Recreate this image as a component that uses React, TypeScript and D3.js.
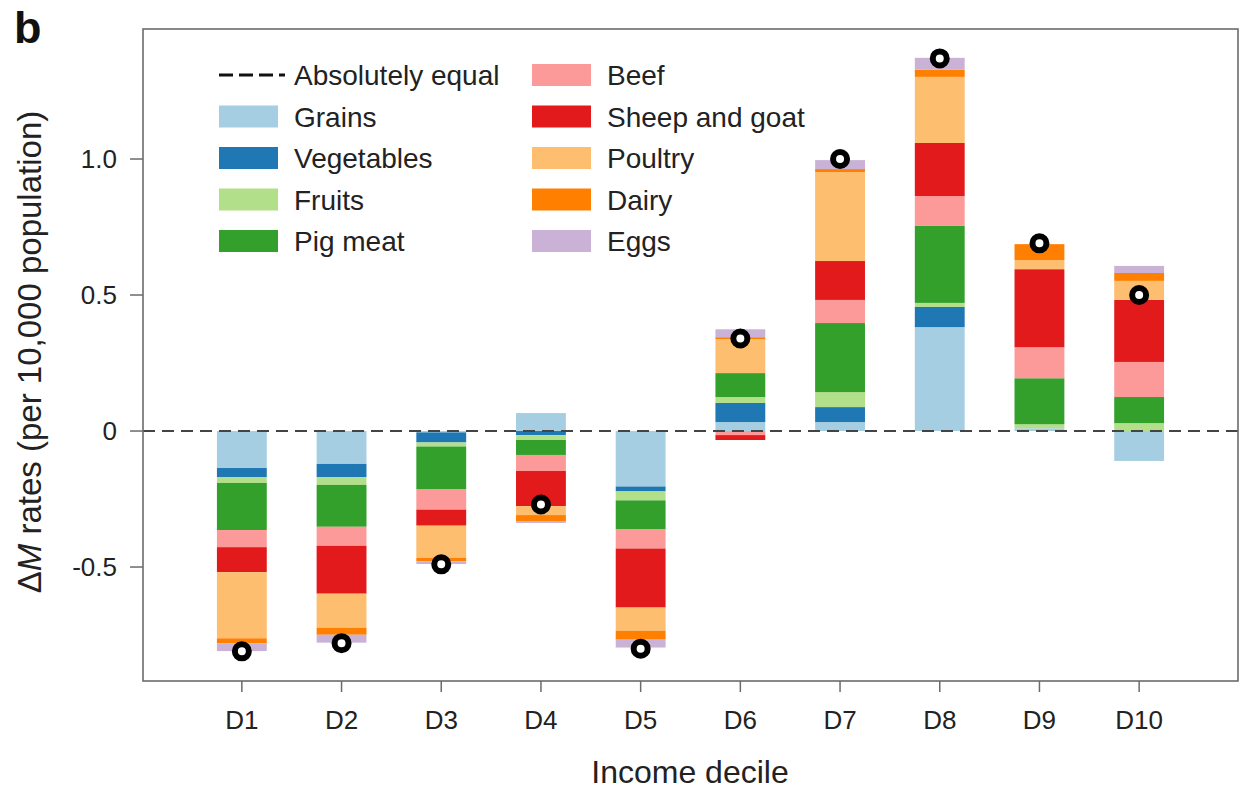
import React from "react";
import * as d3 from "d3";

const categories = ["D1", "D2", "D3", "D4", "D5", "D6", "D7", "D8", "D9", "D10"];
const seriesNames = ["Grains", "Vegetables", "Fruits", "Pig meat", "Beef", "Sheep and goat", "Poultry", "Dairy", "Eggs"];
const seriesColors = ["#a6cee3", "#1f78b4", "#b2df8a", "#33a02c", "#fb9a99", "#e31a1c", "#fdbf6f", "#ff7f00", "#cab2d6"];

const grains = [-0.136, -0.121, -0.005, 0.066, -0.204, 0.033, 0.033, 0.382, 0.01, -0.11];
const vegetables = [-0.033, -0.048, -0.037, -0.015, -0.018, 0.07, 0.055, 0.074, 0, 0];
const fruits = [-0.022, -0.029, -0.015, -0.018, -0.033, 0.022, 0.055, 0.015, 0.015, 0.029];
const pigMeat = [-0.173, -0.154, -0.158, -0.055, -0.107, 0.088, 0.254, 0.283, 0.169, 0.096];
const beef = [-0.063, -0.07, -0.074, -0.059, -0.07, -0.015, 0.085, 0.11, 0.114, 0.129];
const sheepGoat = [-0.092, -0.176, -0.059, -0.129, -0.217, -0.018, 0.143, 0.195, 0.287, 0.228];
const poultry = [-0.243, -0.125, -0.118, -0.033, -0.085, 0.125, 0.327, 0.243, 0.033, 0.07];
const dairy = [-0.018, -0.026, -0.013, -0.022, -0.033, 0.007, 0.011, 0.026, 0.059, 0.029];
const eggs = [-0.029, -0.029, -0.01, -0.007, -0.029, 0.029, 0.033, 0.044, 0, 0.026];
const netValues = [-0.81, -0.78, -0.49, -0.27, -0.8, 0.34, 1.0, 1.37, 0.69, 0.5];

const yTicks = [-0.5, 0, 0.5, 1.0];
const yTickLabels = ["-0.5", "0", "0.5", "1.0"];

const seriesValues = [grains, vegetables, fruits, pigMeat, beef, sheepGoat, poultry, dairy, eggs];

const W = 1239;
const H = 791;
const plot = { left: 143, right: 1238, top: 29, bottom: 681 };
const FONT = "'Liberation Sans', Arial, sans-serif";
const TXT = "#222";
const AXIS = "#6b6b6b";

export default function App() {
  const rows = categories.map((c, i) => {
    const r: Record<string, any> = { cat: c };
    seriesNames.forEach((s, j) => (r[s] = seriesValues[j][i]));
    return r;
  });
  const stacked = d3
    .stack<any>()
    .keys(seriesNames)
    .offset(d3.stackOffsetDiverging)(rows);

  const x = d3
    .scaleBand<string>()
    .domain(categories)
    .range([192, 1189])
    .paddingInner(0.5)
    .paddingOuter(0.25);
  const y = d3.scaleLinear().domain([-0.919, 1.478]).range([plot.bottom, plot.top]);

  const legendLeft = seriesNames.slice(0, 4);
  const legendRight = seriesNames.slice(4);
  const rowY = (k: number) => 75 + k * 41.5;

  return (
    <svg width={W} height={H} style={{ position: "absolute", left: 0, top: 0, background: "#fff" }} fontFamily={FONT}>
      <text x={14} y={43} fontSize={45} fontWeight="bold" fill="#111">b</text>

      {/* bars */}
      {stacked.map((layer, j) => (
        <g key={layer.key} fill={seriesColors[j]}>
          {layer.map((d, i) => {
            const y0 = y(d[0]);
            const y1 = y(d[1]);
            const h = Math.abs(y0 - y1);
            if (h < 0.01) return null;
            return <rect key={i} x={x(categories[i])} width={x.bandwidth()} y={Math.min(y0, y1)} height={h} />;
          })}
        </g>
      ))}

      {/* zero line */}
      <line x1={plot.left} x2={plot.right} y1={y(0)} y2={y(0)} stroke="#444" strokeWidth={2} strokeDasharray="12,7" />

      {/* net dots */}
      {netValues.map((v, i) => (
        <circle key={i} cx={(x(categories[i]) as number) + x.bandwidth() / 2} cy={y(v)} r={7} fill="#fff" stroke="#000" strokeWidth={6} />
      ))}

      {/* frame */}
      <rect x={plot.left} y={plot.top} width={plot.right - plot.left} height={plot.bottom - plot.top} fill="none" stroke={AXIS} strokeWidth={1.6} />

      {/* y axis */}
      {yTicks.map((t, i) => (
        <g key={t}>
          <line x1={plot.left - 13} x2={plot.left} y1={y(t)} y2={y(t)} stroke={AXIS} strokeWidth={1.5} />
          <text x={117} y={y(t)} dy="0.36em" textAnchor="end" fontSize={26} fill={TXT}>{yTickLabels[i]}</text>
        </g>
      ))}
      <text transform={`translate(41, 352) rotate(-90)`} textAnchor="middle" fontSize={33} fill={TXT}>
        Δ<tspan fontStyle="italic">M</tspan> rates (per 10,000 population)
      </text>

      {/* x axis */}
      {categories.map((c) => {
        const cx = (x(c) as number) + x.bandwidth() / 2;
        return (
          <g key={c}>
            <line x1={cx} x2={cx} y1={plot.bottom} y2={plot.bottom + 11} stroke={AXIS} strokeWidth={1.5} />
            <text x={cx} y={729} textAnchor="middle" fontSize={26} fill={TXT}>{c}</text>
          </g>
        );
      })}
      <text x={690} y={783} textAnchor="middle" fontSize={32} fill={TXT}>Income decile</text>

      {/* legend */}
      <g fontSize={28} fill={TXT}>
        <line x1={219} x2={285} y1={rowY(0)} y2={rowY(0)} stroke="#111" strokeWidth={3} strokeDasharray="14,6" />
        <text x={294} y={rowY(0)} dy="0.36em">Absolutely equal</text>
        {legendLeft.map((s, k) => (
          <g key={s}>
            <rect x={219} y={rowY(k + 1) - 11} width={59} height={22} fill={seriesColors[k]} />
            <text x={294} y={rowY(k + 1)} dy="0.36em">{s}</text>
          </g>
        ))}
        {legendRight.map((s, k) => (
          <g key={s}>
            <rect x={532} y={rowY(k) - 11} width={59} height={22} fill={seriesColors[k + 4]} />
            <text x={607} y={rowY(k)} dy="0.36em">{s}</text>
          </g>
        ))}
      </g>
    </svg>
  );
}
